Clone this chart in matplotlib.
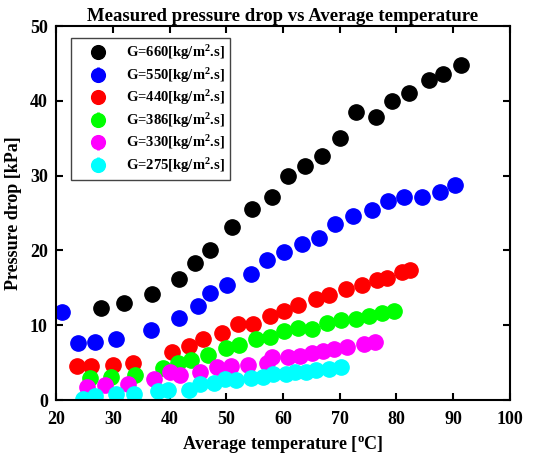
import matplotlib.pyplot as plt

plt.rcParams['font.family'] = 'Liberation Serif'
plt.rcParams['font.weight'] = 'bold'
plt.rcParams['mathtext.fontset'] = 'custom'
plt.rcParams['mathtext.rm'] = 'Liberation Serif:bold'
plt.rcParams['mathtext.bf'] = 'Liberation Serif:bold'
plt.rcParams['mathtext.default'] = 'bf'

T_660 = [27.9, 31.9, 36.9, 41.6, 44.5, 47.1, 51.1, 54.5, 58.0, 60.8, 63.9, 66.8,
         70.0, 72.8, 76.4, 79.2, 82.3, 85.7, 88.2, 91.4]
P_660 = [12.3, 13.0, 14.2, 16.2, 18.3, 20.1, 23.1, 25.6, 27.2, 29.9, 31.3, 32.7,
         35.0, 38.5, 37.9, 40.0, 41.1, 42.8, 43.6, 44.8]

T_550 = [21.0, 23.8, 26.8, 30.5, 36.8, 41.6, 45.0, 47.1, 50.2, 54.3, 57.1, 60.1,
         63.3, 66.3, 69.2, 72.3, 75.7, 78.6, 81.4, 84.5, 87.7, 90.3]
P_550 = [11.8, 7.6, 7.7, 8.2, 9.4, 11.0, 12.6, 14.3, 15.4, 16.9, 18.7, 19.8,
         20.9, 21.7, 23.5, 24.6, 25.4, 26.6, 27.1, 27.2, 27.8, 28.7]

T_440 = [23.6, 26.2, 30.0, 33.6, 40.4, 43.4, 45.9, 49.3, 52.1, 54.8, 57.8, 60.2,
         62.7, 65.8, 68.1, 71.1, 74.0, 76.6, 78.3, 81.0, 82.4]
P_440 = [4.5, 4.5, 4.7, 5.0, 6.4, 7.2, 8.2, 8.9, 10.1, 10.2, 11.3, 11.9,
         12.7, 13.5, 14.1, 14.8, 15.4, 16.0, 16.3, 17.1, 17.4]

T_386 = [26.0, 29.7, 33.9, 38.9, 41.5, 43.7, 46.8, 49.9, 52.3, 55.2, 57.7, 60.2,
         62.6, 65.2, 67.7, 70.2, 72.8, 75.2, 77.4, 79.6]
P_386 = [3.0, 3.1, 3.4, 4.3, 5.0, 5.3, 6.0, 6.9, 7.3, 8.1, 8.4, 9.2,
         9.6, 9.5, 10.3, 10.7, 10.8, 11.2, 11.6, 11.9]

T_330 = [25.5, 28.6, 32.7, 37.3, 40.0, 41.9, 45.4, 48.3, 50.8, 53.9, 57.1, 58.1,
         60.8, 63.0, 65.2, 67.0, 69.0, 71.2, 74.3, 76.2]
P_330 = [1.8, 2.0, 2.1, 2.8, 3.8, 3.3, 3.8, 4.4, 4.6, 4.7, 5.0, 5.7,
         5.8, 5.9, 6.3, 6.5, 6.8, 7.1, 7.5, 7.7]

T_275 = [24.8, 26.8, 30.6, 33.7, 37.9, 39.8, 43.4, 45.4, 47.9, 49.8, 51.8, 54.3,
         56.5, 58.2, 60.5, 62.1, 64.1, 65.9, 68.1, 70.3]
P_275 = [0.2, 0.6, 0.8, 0.8, 1.2, 1.4, 1.3, 2.1, 2.3, 2.8, 2.7, 3.0,
         3.1, 3.5, 3.5, 3.7, 3.8, 4.0, 4.2, 4.4]

labels = ['660', '550', '440', '386', '330', '275']
series = [(T_660, P_660), (T_550, P_550), (T_440, P_440),
          (T_386, P_386), (T_330, P_330), (T_275, P_275)]
yerrs = [0.8, 0.7, 0.6, 0.5, 0.4, 0.4]
colors = ['black', 'blue', 'red', '#00ff00', 'magenta', 'cyan']

fig = plt.figure(figsize=(5.5, 4.59), dpi=100)
ax = fig.add_axes([0.102, 0.1285, 0.825, 0.8145])

for (t, p), g, c, e in zip(series, labels, colors, yerrs):
    ax.errorbar(t, p, yerr=e, fmt='o', color=c, ecolor=c, markersize=11,
                elinewidth=2, capsize=0, label='G=' + g + '[kg/m$^2$.s]')

ax.set_xlim(20, 100)
ax.set_ylim(0, 50)
ax.set_xticks(range(20, 101, 10))
ax.set_yticks(range(0, 51, 10))
ax.tick_params(direction='in', top=True, right=True, length=5, width=1.5,
               labelsize=13)
ax.tick_params(axis='x', pad=8)
ax.tick_params(axis='y', pad=6)
for s in ax.spines.values():
    s.set_linewidth(1.5)

ax.set_title('Measured pressure drop vs Average temperature', fontsize=13.5,
             fontweight='bold', pad=4)
ax.set_xlabel('Average temperature [$^{o}$C]', fontsize=13, fontweight='bold')
ax.set_ylabel('Pressure drop [kPa]', fontsize=13, fontweight='bold', labelpad=6)

leg = ax.legend(loc='upper left', fontsize=10.5, fancybox=False, edgecolor='#444444',
                framealpha=1, handletextpad=0.45, labelspacing=0.25,
                borderpad=0.35, handlelength=3.0, borderaxespad=0,
                markerscale=0.9, bbox_to_anchor=(0.033, 0.968))
leg.get_frame().set_linewidth(1.0)

fig.savefig('out.png', dpi=100)
